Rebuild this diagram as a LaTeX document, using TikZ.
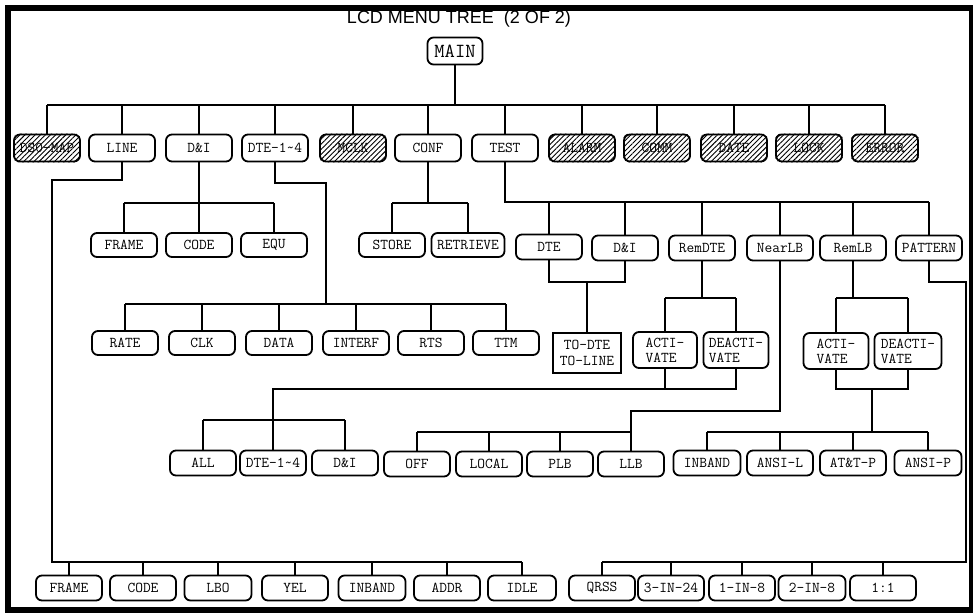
\documentclass[tikz,border=0pt]{standalone}
\usepackage{fontspec}
\setmainfont{Liberation Sans}
\usetikzlibrary{patterns.meta}
\begin{document}
\begin{tikzpicture}[x=1pt,y=-1pt,
 box/.style={draw,line width=1.8pt,rounded corners=6pt,minimum height=25pt,minimum width=66pt,inner sep=1pt,font=\ttfamily\fontsize{15}{15}\selectfont},
 twoline/.style={box,minimum height=36pt,align=left},
 sqbox/.style={box,rounded corners=0pt,minimum height=40pt,minimum width=68pt,align=center,font=\ttfamily\fontsize{15}{16}\selectfont},
 conn/.style={line width=1.8pt},
 hatchfill/.style={pattern={Lines[angle=45,distance=3.6pt,line width=0.9pt]},rounded corners=6pt}]
\useasboundingbox (0,0) rectangle (973,613);
\draw[line width=6pt] (8,7.5) rectangle (972,610);
\node[font=\fontsize{18}{20}\selectfont] (title) at (459,19) {LCD MENU TREE\ \ (2 OF 2)};
% main
\node[box,minimum width=55pt,minimum height=27pt,font=\ttfamily\fontsize{20}{20}\selectfont] (main) at (455,51) {MAIN};
% top row
\node[box,minimum height=27pt] (dsomap) at (47,148) {DS0-MAP};
\node[box,minimum height=27pt] (line) at (122,148) {LINE};
\node[box,minimum height=27pt] (dni) at (199,148) {D\&I};
\node[box,minimum height=27pt] (dte) at (275,148) {DTE-1\textasciitilde4};
\node[box,minimum height=27pt] (mclk) at (353,148) {MCLK};
\node[box,minimum height=27pt] (conf) at (428,148) {CONF};
\node[box,minimum height=27pt] (test) at (505,148) {TEST};
\node[box,minimum height=27pt] (alarm) at (582,148) {ALARM};
\node[box,minimum height=27pt] (comm) at (657,148) {COMM};
\node[box,minimum height=27pt] (date) at (734,148) {DATE};
\node[box,minimum height=27pt] (lock) at (809,148) {LOCK};
\node[box,minimum height=27pt] (error) at (885,148) {ERROR};
\foreach \n in {dsomap,mclk,alarm,comm,date,lock,error}
  \path[hatchfill] (\n.south west) rectangle (\n.north east);
% D&I and CONF children
\node[box,minimum height=24pt] (dframe) at (124,245) {FRAME};
\node[box,minimum height=24pt] (dcode) at (199,245) {CODE};
\node[box,minimum height=24pt] (dequ) at (274,245) {EQU};
\node[box,minimum height=24pt] (store) at (392,245) {STORE};
\node[box,minimum height=24pt,minimum width=73pt] (retrieve) at (468,245) {RETRIEVE};
% DTE children
\node[box,minimum height=24pt] (rate) at (125,343) {RATE};
\node[box,minimum height=24pt] (clk) at (202,343) {CLK};
\node[box,minimum height=24pt] (data) at (279,343) {DATA};
\node[box,minimum height=24pt] (interf) at (356,343) {INTERF};
\node[box,minimum height=24pt] (rts) at (431,343) {RTS};
\node[box,minimum height=24pt] (ttm) at (506,343) {TTM};
% TEST children
\node[box] (tdte) at (549,247) {DTE};
\node[box] (tdni) at (625,248) {D\&I};
\node[box] (remdte) at (702,248) {RemDTE};
\node[box] (nearlb) at (780,248) {NearLB};
\node[box] (remlb) at (853,248) {RemLB};
\node[box] (pattern) at (929,248) {PATTERN};
\node[sqbox] (todte) at (587,353) {TO-DTE\\TO-LINE};
\node[twoline,minimum width=64pt] (ract) at (665,350) {ACTI-\\VATE};
\node[twoline,minimum width=65pt] (rdeact) at (736,350) {DEACTI-\\VATE};
\node[twoline,minimum width=65pt] (lact) at (836,351) {ACTI-\\VATE};
\node[twoline,minimum width=67pt] (ldeact) at (908,351) {DEACTI-\\VATE};
% lower row
\node[box] (all) at (203,463) {ALL};
\node[box] (dte2) at (273,463) {DTE-1\textasciitilde4};
\node[box] (dni2) at (345,463) {D\&I};
\node[box] (off) at (417,464) {OFF};
\node[box] (local) at (489,464) {LOCAL};
\node[box] (plb) at (560,464) {PLB};
\node[box] (llb) at (631,464) {LLB};
\node[box,minimum width=67pt] (inband2) at (707,463) {INBAND};
\node[box] (ansil) at (780,463) {ANSI-L};
\node[box] (attp) at (853,463) {AT\&T-P};
\node[box,minimum width=67pt] (ansip) at (928,463) {ANSI-P};
% bottom row
\node[box] (bframe) at (69,588) {FRAME};
\node[box] (bcode) at (143,588) {CODE};
\node[box,minimum width=67pt] (lbo) at (218,588) {LBO};
\node[box] (yel) at (295,588) {YEL};
\node[box,minimum width=67pt] (binband) at (372,588) {INBAND};
\node[box] (addr) at (447,588) {ADDR};
\node[box,minimum width=68pt] (idle) at (522,588) {IDLE};
\node[box] (qrss) at (602,588) {QRSS};
\node[box] (in24) at (671,588) {3-IN-24};
\node[box] (in8a) at (742,588) {1-IN-8};
\node[box,minimum width=67pt] (in8b) at (812,588) {2-IN-8};
\node[box] (one) at (883,588) {1:1};
% level coordinates
\coordinate (y105) at (0,105);
\coordinate (y203) at (0,203);
\coordinate (y202) at (0,202);
\coordinate (y304) at (0,304);
\coordinate (y282) at (0,282);
\coordinate (y298) at (0,298);
\coordinate (y389) at (0,389);
\coordinate (y411) at (0,411);
\coordinate (y420) at (0,420);
\coordinate (y432) at (0,432);
\coordinate (y562) at (0,562);
\coordinate (lineA) at (52,180);
\coordinate (dteA) at (326,183);
\coordinate (patA) at (966,282);
\coordinate (lm) at (872,389);
% main bus
\draw[conn] (main.south) -- (main.south |- y105);
\draw[conn] (dsomap.north |- y105) -- (error.north |- y105);
\foreach \n in {dsomap,line,dni,dte,mclk,conf,test,alarm,comm,date,lock,error}
  \draw[conn] (\n.north |- y105) -- (\n.north);
% LINE
\draw[conn] (line.south) |- (lineA) -- (lineA |- y562) -- (idle.north |- y562);
\foreach \n in {bframe,bcode,lbo,yel,binband,addr,idle}
  \draw[conn] (\n.north |- y562) -- (\n.north);
% D&I
\draw[conn] (dni.south) -- (dni.south |- y203);
\draw[conn] (dframe.north |- y203) -- (dequ.north |- y203);
\foreach \n in {dframe,dcode,dequ}
  \draw[conn] (\n.north |- y203) -- (\n.north);
% CONF
\draw[conn] (conf.south) -- (conf.south |- y203);
\draw[conn] (store.north |- y203) -- (retrieve.north |- y203);
\foreach \n in {store,retrieve}
  \draw[conn] (\n.north |- y203) -- (\n.north);
% DTE-1~4
\draw[conn] (dte.south) |- (dteA) -- (dteA |- y304);
\draw[conn] (rate.north |- y304) -- (ttm.north |- y304);
\foreach \n in {rate,clk,data,interf,rts,ttm}
  \draw[conn] (\n.north |- y304) -- (\n.north);
% TEST
\draw[conn] (test.south) -- (test.south |- y202) -- (pattern.north |- y202);
\foreach \n in {tdte,tdni,remdte,nearlb,remlb,pattern}
  \draw[conn] (\n.north |- y202) -- (\n.north);
% DTE / D&I -> TO-DTE
\draw[conn] (tdte.south) -- (tdte.south |- y282) -- (tdni.south |- y282) -- (tdni.south);
\draw[conn] (todte.north |- y282) -- (todte.north);
% RemDTE
\draw[conn] (remdte.south) -- (remdte.south |- y298);
\draw[conn] (ract.north |- y298) -- (rdeact.north |- y298);
\foreach \n in {ract,rdeact}
  \draw[conn] (\n.north |- y298) -- (\n.north);
\draw[conn] (ract.south) -- (ract.south |- y389);
\draw[conn] (rdeact.south) -- (rdeact.south |- y389) -- (dte2.north |- y389) -- (dte2.north |- y420);
\draw[conn] (all.north |- y420) -- (dni2.north |- y420);
\foreach \n in {all,dte2,dni2}
  \draw[conn] (\n.north |- y420) -- (\n.north);
% NearLB
\draw[conn] (nearlb.south) -- (nearlb.south |- y411) -- (llb.north |- y411) -- (llb.north |- y432);
\draw[conn] (off.north |- y432) -- (llb.north |- y432);
\foreach \n in {off,local,plb,llb}
  \draw[conn] (\n.north |- y432) -- (\n.north);
% RemLB
\draw[conn] (remlb.south) -- (remlb.south |- y298);
\draw[conn] (lact.north |- y298) -- (ldeact.north |- y298);
\foreach \n in {lact,ldeact}
  \draw[conn] (\n.north |- y298) -- (\n.north);
\draw[conn] (lact.south) -- (lact.south |- y389) -- (ldeact.south |- y389) -- (ldeact.south);
\draw[conn] (lm) -- (lm |- y432);
\draw[conn] (inband2.north |- y432) -- (ansip.north |- y432);
\foreach \n in {inband2,ansil,attp,ansip}
  \draw[conn] (\n.north |- y432) -- (\n.north);
% PATTERN
\draw[conn] (pattern.south) |- (patA) -- (patA |- y562) -- (qrss.north |- y562);
\foreach \n in {qrss,in24,in8a,in8b,one}
  \draw[conn] (\n.north |- y562) -- (\n.north);
\end{tikzpicture}
\end{document}
